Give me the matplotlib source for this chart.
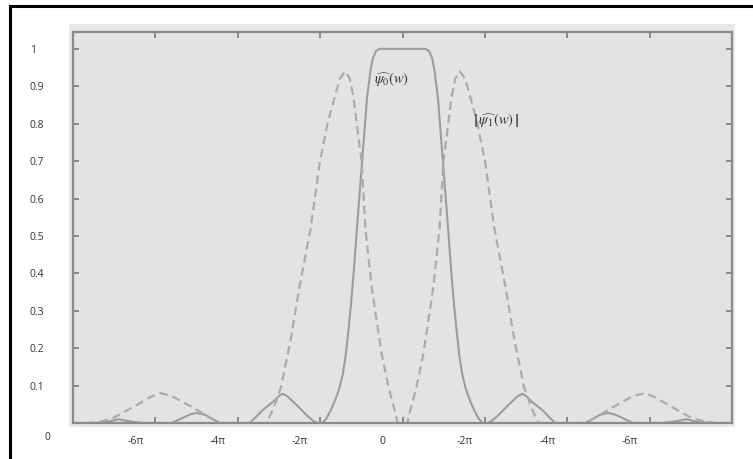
#!/usr/bin/env python3

import matplotlib
matplotlib.use("Agg")
import matplotlib.pyplot as plt
import matplotlib.transforms as mtrans
from matplotlib.patches import Rectangle
from matplotlib.lines import Line2D

# omega in units of pi
psi0_w = [-8.0, -7.5, -7.2, -6.9, -6.6, -6.3, -5.6, -5.35, -5.15, -5.0, -4.8, -4.6, -4.44,
          -3.71, -3.55, -3.39, -3.15, -2.98, -2.91, -2.8, -2.57, -2.33, -2.15, -2.06,
          -1.94, -1.85, -1.75, -1.64, -1.54, -1.45, -1.38, -1.31, -1.24, -1.18, -1.10,
          -0.98, -0.86, -0.78, -0.72, -0.64, -0.55,
          0.55, 0.64, 0.72, 0.78, 0.86, 0.98, 1.10, 1.18, 1.24, 1.31, 1.38, 1.45, 1.54,
          1.64, 1.75, 1.85, 1.94, 2.06, 2.15, 2.33, 2.57, 2.8, 2.91, 2.98, 3.15, 3.39,
          3.55, 3.71, 4.44, 4.6, 4.8, 5.0, 5.15, 5.35, 5.6, 6.3, 6.6, 6.9, 7.2, 7.5, 8.0]
psi0_v = [0, 0, 0.002, 0.01, 0.004, 0, 0, 0.013, 0.023, 0.027, 0.022, 0.01, 0,
          0, 0.017, 0.035, 0.056, 0.074, 0.078, 0.072, 0.048, 0.021, 0.004, 0,
          0, 0.012, 0.032, 0.06, 0.09, 0.13, 0.18, 0.25, 0.33, 0.41, 0.53,
          0.70, 0.87, 0.94, 0.975, 0.995, 1.0,
          1.0, 0.995, 0.975, 0.94, 0.87, 0.70, 0.53, 0.41, 0.33, 0.25, 0.18, 0.13, 0.09,
          0.06, 0.032, 0.012, 0, 0, 0.004, 0.021, 0.048, 0.072, 0.078, 0.074, 0.056, 0.035,
          0.017, 0, 0, 0.01, 0.022, 0.027, 0.023, 0.013, 0, 0, 0.004, 0.01, 0.002, 0, 0]

psi1_w = [-8.0, -7.6, -7.3, -7.03, -6.75, -6.45, -6.15, -5.89, -5.6, -5.33, -4.99, -4.75,
          -4.55, -4.44, -3.30, -3.12, -2.95, -2.88, -2.78, -2.72, -2.50, -2.23, -2.01,
          -1.82, -1.65, -1.52, -1.39, -1.28, -1.19, -0.99, -0.90, -0.75, -0.51, -0.34,
          -0.18, -0.12,
          0.12, 0.18, 0.34, 0.51, 0.75, 0.90, 0.99, 1.19, 1.28, 1.39, 1.52, 1.65, 1.82,
          2.01, 2.23, 2.50, 2.72, 2.78, 2.88, 2.95, 3.12, 3.30, 4.44, 4.55, 4.75, 4.99,
          5.33, 5.6, 5.89, 6.15, 6.45, 6.75, 7.03, 7.3, 7.6, 8.0]
psi1_v = [0, 0, 0.005, 0.013, 0.03, 0.048, 0.068, 0.08, 0.072, 0.056, 0.035, 0.019,
          0.006, 0, 0, 0.043, 0.096, 0.134, 0.187, 0.22, 0.364, 0.52, 0.695,
          0.80, 0.87, 0.92, 0.94, 0.92, 0.87, 0.695, 0.52, 0.364, 0.187, 0.096,
          0.03, 0,
          0, 0.03, 0.096, 0.187, 0.364, 0.52, 0.695, 0.87, 0.92, 0.94, 0.92, 0.87, 0.80,
          0.695, 0.52, 0.364, 0.22, 0.187, 0.134, 0.096, 0.043, 0, 0, 0.006, 0.019, 0.035,
          0.056, 0.072, 0.08, 0.068, 0.048, 0.03, 0.013, 0.005, 0, 0]

x_ticks = [-6, -4, -2, 0, 2, 4, 6]
x_labels = ["-6π", "-4π", "-2π", "0", "-2π", "-4π", "-6π"]
y_ticks = [0.1, 0.2, 0.3, 0.4, 0.5, 0.6, 0.7, 0.8, 0.9, 1.0]
y_labels = ["0.1", "0.2", "0.3", "0.4", "0.5", "0.6", "0.7", "0.8", "0.9", "1"]

plt.rcParams["font.family"] = ["Open Sans", "DejaVu Sans"]
plt.rcParams["mathtext.fontset"] = "stix"

fig = plt.figure(figsize=(7.53, 4.59), dpi=100)

# light band behind the plot frame
fig.patches.append(Rectangle((69 / 753, 32 / 459), 666 / 753, 403 / 459,
                             transform=fig.transFigure, facecolor="#e8e8e8",
                             edgecolor="none", zorder=-10))
# frame lines (top and left) of the whole picture
fig.lines.append(Line2D([10 / 753, 1], [1 - 6 / 459, 1 - 6 / 459],
                        transform=fig.transFigure, color="black", lw=2.2))
fig.lines.append(Line2D([10 / 753, 10 / 753], [0, 1 - 6 / 459],
                        transform=fig.transFigure, color="black", lw=2.2))

ax = fig.add_axes([73 / 753, 36 / 459, 659 / 753, 391 / 459])
ax.set_zorder(1)
ax.set_facecolor("#e3e3e3")

ax.plot(psi0_w, psi0_v, color="#9c9c9c", lw=1.5, solid_joinstyle="round")
ax.plot(psi1_w, psi1_v, color="#ababab", lw=1.6, dashes=(3.8, 2.2))

ax.set_xlim(-8, 8)
ax.set_ylim(0, 1.045)

for s in ax.spines.values():
    s.set_color("#8a8a8a")
    s.set_linewidth(1.6)

ax.set_xticks(x_ticks)
ax.set_xticklabels(x_labels)
ax.set_yticks(y_ticks)
ax.set_yticklabels(y_labels)
ax.tick_params(direction="in", length=4, width=1.2, color="#777777",
               top=True, right=True, labelsize=7.5, labelcolor="#333333")
ax.tick_params(axis="x", pad=9)
ax.tick_params(axis="y", pad=31)
for lab in ax.get_yticklabels():
    lab.set_ha("left")
shift = mtrans.ScaledTranslation(-0.2, 0, fig.dpi_scale_trans)
for lab in ax.get_xticklabels():
    lab.set_transform(lab.get_transform() + shift)

fig.text(47 / 753, 1 - 438 / 459, "0", fontsize=7.5, color="#333333",
         ha="center", va="center")

ax.text(-0.68, 0.92, r"$\widehat{\psi_0}(w)$", fontsize=10.5, color="#333333",
        ha="left", va="center")
ax.text(1.70, 0.81, r"$\left|\,\widehat{\psi_1}(w)\,\right|$", fontsize=10.5,
        color="#333333", ha="left", va="center")

fig.savefig("out.png", dpi=100)
